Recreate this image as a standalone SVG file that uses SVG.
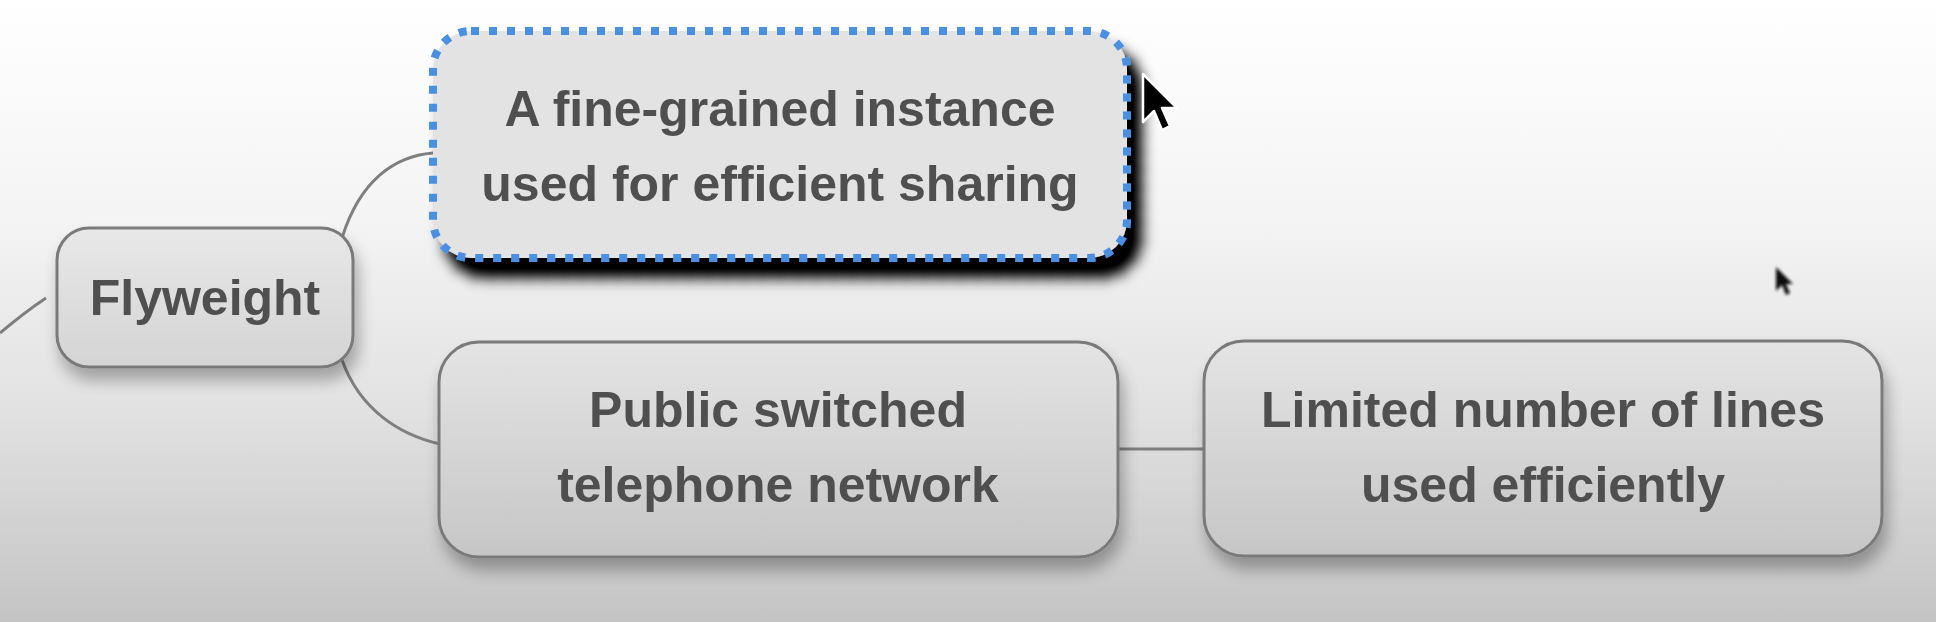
<svg xmlns="http://www.w3.org/2000/svg" width="1936" height="622" viewBox="0 0 1936 622">
  <defs>
    <linearGradient id="bg" x1="0" y1="0" x2="0" y2="1">
      <stop offset="0" stop-color="#ffffff"/>
      <stop offset="0.35" stop-color="#f4f4f4"/>
      <stop offset="0.65" stop-color="#e2e2e2"/>
      <stop offset="1" stop-color="#c4c4c4"/>
    </linearGradient>
    <linearGradient id="nodeFill" x1="0" y1="0" x2="0" y2="1">
      <stop offset="0" stop-color="#e4e4e4"/>
      <stop offset="1" stop-color="#c6c6c6"/>
    </linearGradient>
    <linearGradient id="flyFill" x1="0" y1="0" x2="0" y2="1">
      <stop offset="0" stop-color="#e8e8e8"/>
      <stop offset="1" stop-color="#d4d4d4"/>
    </linearGradient>
    <filter id="softShadow" x="-20%" y="-20%" width="140%" height="160%">
      <feGaussianBlur in="SourceAlpha" stdDeviation="8"/>
      <feOffset dx="4" dy="12" result="b"/>
      <feComponentTransfer><feFuncA type="linear" slope="0.3"/></feComponentTransfer>
      <feMerge><feMergeNode/><feMergeNode in="SourceGraphic"/></feMerge>
    </filter>
    <filter id="hardShadow" x="-20%" y="-20%" width="140%" height="160%">
      <feGaussianBlur in="SourceAlpha" stdDeviation="7"/>
      <feOffset dx="13" dy="18" result="b"/>
      <feComponentTransfer><feFuncA type="linear" slope="1.1"/></feComponentTransfer>
      <feMerge><feMergeNode/><feMergeNode in="SourceGraphic"/></feMerge>
    </filter>
    <filter id="cursorBlur" x="-50%" y="-50%" width="200%" height="200%">
      <feGaussianBlur stdDeviation="1.5"/>
    </filter>
  </defs>
  <style>
    .box { stroke: #7a7a7a; stroke-width: 3; }
    .sel { fill: #e3e3e3; stroke: #4a90e2; stroke-width: 8; stroke-dasharray: 8 10; }
    .lbl { font-family: "Liberation Sans", Arial, sans-serif; font-weight: bold; font-size: 50px; fill: #505050; text-anchor: middle; }
    .conn { fill: none; stroke: #7f7f7f; stroke-width: 3; }
  </style>

  <rect x="0" y="0" width="1936" height="622" fill="url(#bg)"/>

  <g id="connectors">
    <path class="conn" d="M0,333 Q25,312 46,298"/>
    <path class="conn" d="M342,238 C360,180 395,156 433,153"/>
    <path class="conn" d="M342,360 C360,410 400,435 440,444"/>
    <path class="conn" d="M1118,449 L1204,449"/>
  </g>

  <g id="node-flyweight" filter="url(#softShadow)">
    <rect class="box" x="57" y="228" width="296" height="139" rx="32" fill="url(#flyFill)"/>
    <text class="lbl" x="205" y="315">Flyweight</text>
  </g>

  <g id="node-fine-grained" filter="url(#hardShadow)">
    <rect class="sel" x="433" y="31" width="694" height="227" rx="38"/>
    <text class="lbl" x="780" y="126">A fine-grained instance</text>
    <text class="lbl" x="780" y="201">used for efficient sharing</text>
  </g>

  <g id="node-pstn" filter="url(#softShadow)">
    <rect class="box" x="439" y="342" width="679" height="215" rx="40" fill="url(#nodeFill)"/>
    <text class="lbl" x="778" y="427">Public switched</text>
    <text class="lbl" x="778" y="502">telephone network</text>
  </g>

  <g id="node-limited" filter="url(#softShadow)">
    <rect class="box" x="1204" y="341" width="678" height="215" rx="40" fill="url(#nodeFill)"/>
    <text class="lbl" x="1543" y="427">Limited number of lines</text>
    <text class="lbl" x="1543" y="502">used efficiently</text>
  </g>

  <g id="cursors">
    <path d="M1143,74 L1143,122 L1154,111 L1162,130 L1170,126 L1162,108 L1177,108 Z" fill="#000" stroke="#fff" stroke-width="2.5" stroke-linejoin="round"/>
    <path d="M1776,267 L1776,291 L1782,285 L1786,295 L1790,293 L1786,284 L1793,284 Z" fill="#111" filter="url(#cursorBlur)"/>
  </g>
</svg>
